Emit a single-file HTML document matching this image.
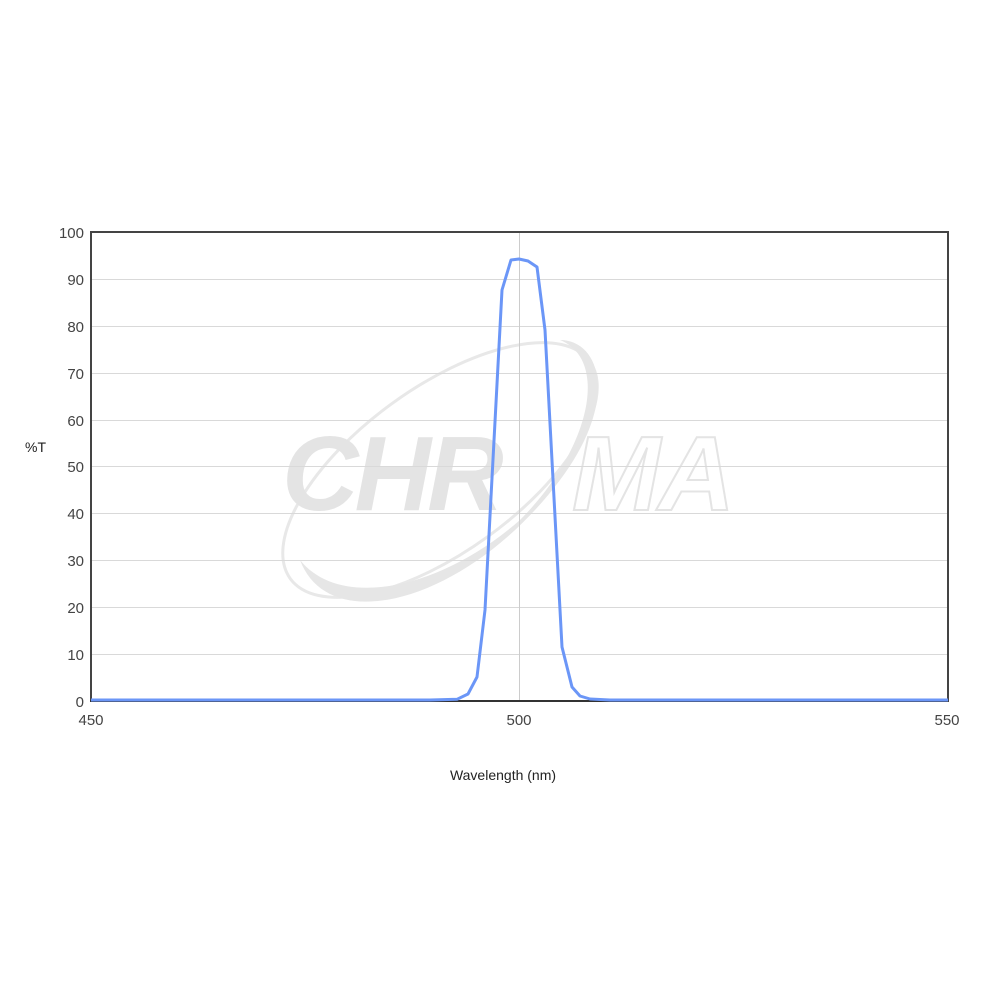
<!DOCTYPE html>
<html><head><style>body{margin:0;background:#fff}svg{display:block}</style></head>
<body>
<svg width="1000" height="1000" viewBox="0 0 1000 1000" xmlns="http://www.w3.org/2000/svg" font-family="Liberation Sans, Arial, sans-serif">
<rect width="1000" height="1000" fill="#fff"/>
<!-- watermark -->
<g opacity="1">
<ellipse cx="440" cy="470" rx="185" ry="82" transform="rotate(-36 440 470)" fill="none" stroke="#e8e8e8" stroke-width="3"/>
<path d="M300 560 C 330 640, 470 600, 560 480 C 620 400, 600 340, 560 340 C 610 360, 590 450, 520 520 C 440 590, 340 610, 300 560 Z" fill="#e6e6e6"/>
<text x="282" y="510" font-size="106" font-weight="bold" font-style="italic" fill="#e4e4e4" letter-spacing="-4">CHR</text>
<text x="572" y="510" font-size="106" font-weight="bold" font-style="italic" fill="none" stroke="#e4e4e4" stroke-width="2" letter-spacing="-2">MA</text>
</g>
<!-- grid -->
<g stroke="#d9d9d9" stroke-width="1">
<line x1="90" x2="948" y1="279.5" y2="279.5"/><line x1="90" x2="948" y1="326.5" y2="326.5"/>
<line x1="90" x2="948" y1="373.5" y2="373.5"/><line x1="90" x2="948" y1="420.5" y2="420.5"/>
<line x1="90" x2="948" y1="466.5" y2="466.5"/><line x1="90" x2="948" y1="513.5" y2="513.5"/>
<line x1="90" x2="948" y1="560.5" y2="560.5"/><line x1="90" x2="948" y1="607.5" y2="607.5"/>
<line x1="90" x2="948" y1="654.5" y2="654.5"/>
<line x1="519.5" x2="519.5" y1="232" y2="701" stroke="#cccccc"/>
</g>
<rect x="91" y="232" width="857" height="469" fill="none" stroke="#444" stroke-width="2"/>
<line x1="90" x2="948" y1="701" y2="701" stroke="#333" stroke-width="2"/>
<!-- curve -->
<polyline fill="none" stroke="#6b96f7" stroke-width="3" stroke-linejoin="round" points="91,700 430,700 457,699.3 468,694 477,677 485,610 502,290 511,260 519,259 528,261 537,267 545,330 562,647 572,687 580,696 590,699 610,700 948,700"/>
<!-- labels -->
<g font-size="15" fill="#444" text-anchor="end">
<text x="84" y="238">100</text><text x="84" y="285">90</text><text x="84" y="332">80</text>
<text x="84" y="379">70</text><text x="84" y="426">60</text><text x="84" y="472">50</text>
<text x="84" y="519">40</text><text x="84" y="566">30</text><text x="84" y="613">20</text>
<text x="84" y="660">10</text><text x="84" y="707">0</text>
</g>
<g font-size="15" fill="#444" text-anchor="middle">
<text x="91" y="725">450</text><text x="519" y="725">500</text><text x="947" y="725">550</text>
<text x="503" y="780" fill="#222" font-size="14">Wavelength (nm)</text>
</g>
<text x="25" y="452" font-size="14" fill="#222">%T</text>
</svg>
</body></html>
